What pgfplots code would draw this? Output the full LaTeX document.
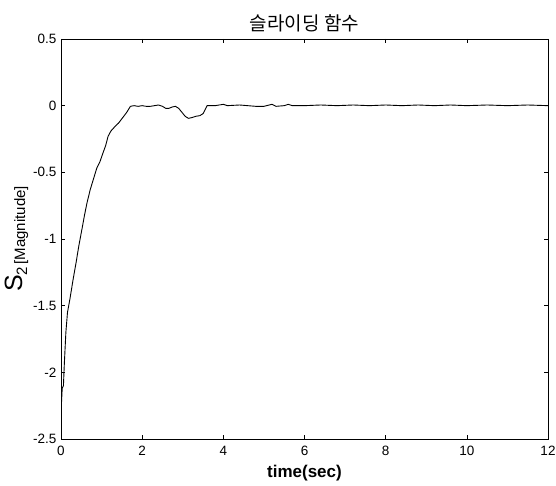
\documentclass[border=0pt]{standalone}
\usepackage{fontspec}
\setmainfont{Liberation Sans}
\newfontfamily\kr{Noto Sans CJK KR}
\usepackage{pgfplots}
\pgfplotsset{compat=1.18}

\begin{document}
\begin{tikzpicture}
\begin{axis}[
  scale only axis,
  width=487pt, height=400pt,
  xmin=0, xmax=12, ymin=-2.5, ymax=0.5,
  xtick={0,2,...,12},
  ytick={-2.5,-2,...,0.5},
  yticklabels={-2.5,-2,-1.5,-1,-0.5,0,0.5},
  tick align=inside,
  tick pos=both,
  major tick length=4pt,
  axis line style={line width=0.8pt},
  tick style={line width=0.6pt, black},
  /pgf/number format/assume math mode=true,
  ticklabel style={font=\fontsize{13.5}{13.5}\selectfont},
  xticklabel style={yshift=-4pt},
  yticklabel style={xshift=-1pt},
  title={\kr\fontsize{19}{19}\selectfont 슬라이딩 함수},
  title style={yshift=-3pt},
  xlabel={\bfseries\fontsize{17}{17}\selectfont time(sec)},
  xlabel style={yshift=-2pt},
  ylabel={\fontsize{25}{25}\selectfont S\raisebox{-5pt}{\fontsize{15}{15}\selectfont 2\,\raisebox{2pt}{[Magnitude]}}},
  ylabel style={yshift=-2pt},
]
\addplot[black, line width=0.9pt] coordinates {
  (0.00,-2.30) (0.03,-2.12) (0.06,-2.10) (0.08,-1.95) (0.12,-1.70)
  (0.16,-1.55) (0.22,-1.45) (0.30,-1.30) (0.37,-1.18) (0.44,-1.05)
  (0.52,-0.92) (0.58,-0.82) (0.64,-0.73) (0.72,-0.63) (0.80,-0.55)
  (0.88,-0.47) (0.96,-0.42) (1.04,-0.35) (1.10,-0.30) (1.16,-0.23)
  (1.23,-0.19) (1.32,-0.16) (1.42,-0.13) (1.52,-0.09) (1.62,-0.05)
  (1.71,-0.005) (1.80,0.00) (1.90,-0.005) (2.00,0.00) (2.10,-0.005)
  (2.20,-0.005) (2.30,0.00) (2.40,0.005) (2.50,-0.005) (2.58,-0.02)
  (2.66,-0.02) (2.74,-0.01) (2.82,-0.005) (2.90,-0.02) (2.98,-0.05)
  (3.06,-0.08) (3.14,-0.095) (3.22,-0.09) (3.32,-0.08) (3.42,-0.075)
  (3.50,-0.06) (3.55,-0.03) (3.60,0.00) (3.80,0.00) (4.00,0.01)
  (4.10,0.00) (4.40,0.005) (4.60,0.00) (4.80,-0.005) (5.00,-0.005)
  (5.20,0.01) (5.30,-0.005) (5.50,0.00) (5.60,0.01) (5.70,0.00)
  (6.00,0.00) (6.40,0.005) (6.80,0.00) (7.20,0.005) (7.60,0.00)
  (8.00,0.005) (8.40,0.00) (8.80,0.005) (9.20,0.00) (9.60,0.005)
  (10.00,0.00) (10.50,0.005) (11.00,0.00) (11.50,0.005) (12.00,0.00)
};
\end{axis}
% page frame: fixed margins around the axis box
\pgfresetboundingbox
\useasboundingbox ([xshift=-61pt,yshift=-47pt]current axis.south west)
  rectangle ([xshift=8pt,yshift=39pt]current axis.north east);
\end{tikzpicture}
\end{document}
